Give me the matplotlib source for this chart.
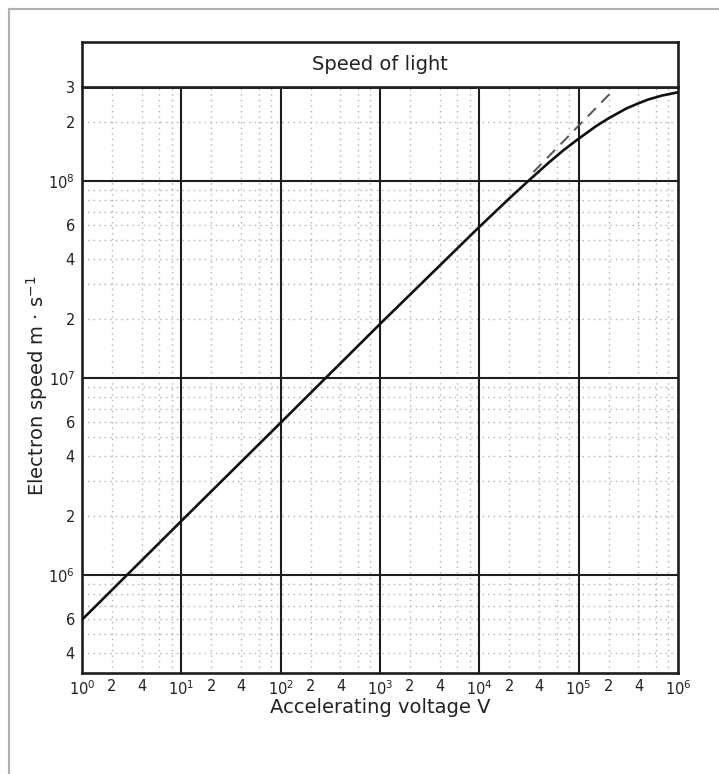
import matplotlib
matplotlib.use("Agg")
import matplotlib.pyplot as plt
from matplotlib.lines import Line2D

plt.rcParams['font.family'] = ['DejaVu Sans']

# Data
voltage = [1, 10, 100, 1e3, 1e4, 2e4, 3e4, 5e4, 7e4, 1e5, 1.5e5, 2e5, 3e5, 4e5, 5e5, 7e5, 1e6]
speed = [5.93e5, 1.88e6, 5.93e6, 1.88e7, 5.85e7, 8.15e7, 9.84e7, 1.24e8, 1.43e8, 1.64e8,
         1.90e8, 2.08e8, 2.33e8, 2.48e8, 2.59e8, 2.72e8, 2.82e8]
# classical (non-relativistic) extension, dashed
classic_voltage = [3.5e4, 2.4e5]
classic_speed = [1.11e8, 3.0e8]

x_ticks = [1, 2, 4, 10, 20, 40, 100, 200, 400, 1e3, 2e3, 4e3, 1e4, 2e4, 4e4, 1e5, 2e5, 4e5, 1e6]
x_labels = ['$10^0$', '2', '4', '$10^1$', '2', '4', '$10^2$', '2', '4', '$10^3$', '2', '4',
            '$10^4$', '2', '4', '$10^5$', '2', '4', '$10^6$']
y_ticks = [4e5, 6e5, 1e6, 2e6, 4e6, 6e6, 1e7, 2e7, 4e7, 6e7, 1e8, 2e8, 3e8]
y_labels = ['4', '6', '$10^6$', '2', '4', '6', '$10^7$', '2', '4', '6', '$10^8$', '2', '3']

W, H = 719, 774
fig = plt.figure(figsize=(W / 100, H / 100), dpi=100)
fig.patch.set_facecolor('white')

ax_l, ax_r, ax_b, ax_t = 82, 678, 672.5, 87
box_t = 42
ax = fig.add_axes([ax_l / W, 1 - ax_b / H, (ax_r - ax_l) / W, (ax_b - ax_t) / H])
ax.set_xscale('log')
ax.set_yscale('log')
ax.set_xlim(1, 1e6)
ax.set_ylim(3.2e5, 3e8)

# minor grid
xm = [m * 10 ** d for d in range(6) for m in (2, 4, 6, 8)]
ym = [m * 10 ** d for d in range(5, 9) for m in range(2, 10)]
for xv in xm:
    ax.axvline(xv, color='#b0b0b0', lw=1.0, ls=(0, (1, 3)), zorder=1)
for yv in ym:
    if 3.2e5 < yv < 3e8:
        ax.axhline(yv, color='#b0b0b0', lw=1.0, ls=(0, (1, 3)), zorder=1)
# major grid
for xv in [10, 100, 1e3, 1e4, 1e5]:
    ax.axvline(xv, color='#1e1e1e', lw=1.5, zorder=2)
for yv in [1e6, 1e7, 1e8]:
    ax.axhline(yv, color='#1e1e1e', lw=1.5, zorder=2)

ax.plot(voltage, speed, color='#111111', lw=1.9, zorder=4)
ax.plot(classic_voltage, classic_speed, color='#555555', lw=1.4, ls=(0, (6, 4)), zorder=3)

ax.set_xticks(x_ticks)
ax.set_xticklabels(x_labels)
ax.set_yticks(y_ticks)
ax.set_yticklabels(y_labels)
ax.minorticks_off()
ax.tick_params(axis='both', length=0, labelsize=10.5, colors='#222222')
ax.tick_params(axis='x', pad=5)
ax.tick_params(axis='y', pad=5)
for s in ax.spines.values():
    s.set_linewidth(1.9)
    s.set_color('#1e1e1e')

ax.set_xlabel('Accelerating voltage V', fontsize=14, color='#222222')
ax.xaxis.label.set_va('center')
ax.xaxis.set_label_coords(0.5, -0.06)
ax.set_ylabel('Electron speed m · s$^{-1}$', fontsize=14, color='#222222')
ax.yaxis.label.set_va('center')
ax.yaxis.set_label_coords(-0.0755, 0.49)

# "Speed of light" band
bax = fig.add_axes([ax_l / W, 1 - ax_t / H, (ax_r - ax_l) / W, (ax_t - box_t) / H])
bax.set_xticks([])
bax.set_yticks([])
for s in bax.spines.values():
    s.set_linewidth(1.9)
    s.set_color('#1e1e1e')
bax.text(0.5, 0.5, 'Speed of light', ha='center', va='center', fontsize=14,
         color='#222222', transform=bax.transAxes)

# outer frame (left and top edges)
fig.add_artist(Line2D([9 / W, 9 / W], [0, 1 - 9 / H], color='#b0b0b0', lw=1.5))
fig.add_artist(Line2D([9 / W, 1], [1 - 9 / H, 1 - 9 / H], color='#b0b0b0', lw=1.5))

fig.savefig('out.png', dpi=100, facecolor='white')
